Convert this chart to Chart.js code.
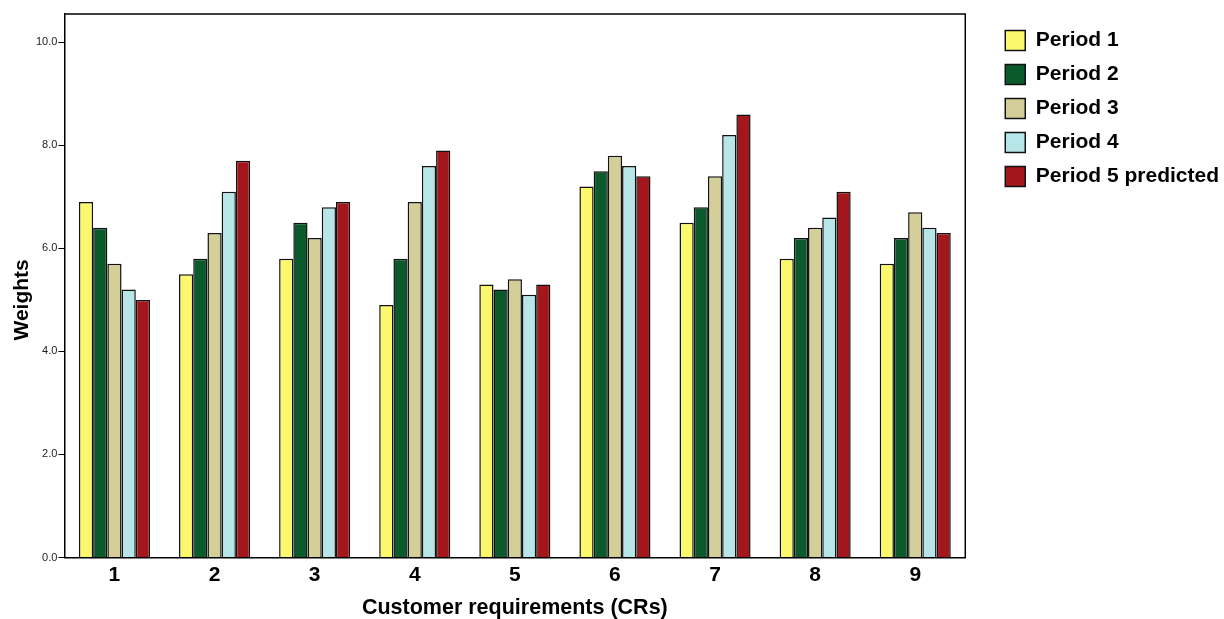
<!DOCTYPE html>
<html>
<head>
    <title>Weights by customer requirement</title>
    <script src="https://cdn.jsdelivr.net/npm/chart.js"></script>
    <style>
        body { margin: 0; background: #fff; }
        #wrap { width: 1224px; height: 619px; }
    </style>
</head>
<body>
    <div id="wrap"><canvas id="chart"></canvas></div>

    <script>
        // Data
        const categories = ['1', '2', '3', '4', '5', '6', '7', '8', '9'];
        const seriesNames = ['Period 1', 'Period 2', 'Period 3', 'Period 4', 'Period 5 predicted'];
        const period1 = [6.9, 5.5, 5.8, 4.9, 5.3, 7.2, 6.5, 5.8, 5.7];
        const period2 = [6.4, 5.8, 6.5, 5.8, 5.2, 7.5, 6.8, 6.2, 6.2];
        const period3 = [5.7, 6.3, 6.2, 6.9, 5.4, 7.8, 7.4, 6.4, 6.7];
        const period4 = [5.2, 7.1, 6.8, 7.6, 5.1, 7.6, 8.2, 6.6, 6.4];
        const period5 = [5.0, 7.7, 6.9, 7.9, 5.3, 7.4, 8.6, 7.1, 6.3];
        const yTicks = [0, 2, 4, 6, 8, 10];

        const colors = ['#fbf86e', '#0a5a2c', '#d4cf98', '#b6e6e8', '#a3161b'];
        const allSeries = [period1, period2, period3, period4, period5];

        const font = "'Liberation Sans', Arial, sans-serif";

        // box round the plot area (top and right edges) + y title centred on the 0-10 range
        const frame = {
            id: 'frame',
            afterDatasetsDraw(chart) {
                const a = chart.chartArea;
                const ctx = chart.ctx;
                ctx.save();
                ctx.strokeStyle = '#000';
                ctx.lineWidth = 1.5;
                ctx.beginPath();
                ctx.moveTo(a.left, a.top);
                ctx.lineTo(a.right, a.top);
                ctx.lineTo(a.right, a.bottom);
                ctx.stroke();

                const y = chart.scales.y;
                const mid = (y.getPixelForValue(0) + y.getPixelForValue(10)) / 2;
                ctx.translate(22, mid);
                ctx.rotate(-Math.PI / 2);
                ctx.font = `bold 21px ${font}`;
                ctx.fillStyle = '#000';
                ctx.textAlign = 'center';
                ctx.textBaseline = 'middle';
                ctx.fillText('Weights', 0, 0);
                ctx.restore();
            }
        };

        // gap between plot and legend, legend pushed to the right
        const legendGap = {
            id: 'legendGap',
            beforeInit(chart) {
                const fit = chart.legend.fit;
                chart.legend.fit = function () {
                    fit.call(this);
                    this.width += 22;
                };
            },
            afterLayout(chart) {
                chart.legend.left += 27;
                chart.legend.right += 27;
                chart.legend.top += 3;
            }
        };

        new Chart(document.getElementById('chart'), {
            type: 'bar',
            data: {
                labels: categories,
                datasets: allSeries.map((d, i) => ({
                    label: seriesNames[i],
                    data: d,
                    backgroundColor: colors[i],
                    borderColor: '#111',
                    borderWidth: 1.5,
                    categoryPercentage: 0.71,
                    barPercentage: 1.0
                }))
            },
            options: {
                responsive: true,
                maintainAspectRatio: false,
                animation: false,
                layout: { padding: { top: 14, left: 35, right: 0, bottom: 0 } },
                plugins: {
                    tooltip: { enabled: false },
                    legend: {
                        position: 'right',
                        align: 'start',
                        labels: {
                            boxWidth: 20,
                            boxHeight: 20,
                            padding: 13,
                            color: '#000',
                            font: { family: font, size: 21, weight: 'bold' }
                        }
                    }
                },
                scales: {
                    x: {
                        grid: { display: false, drawTicks: false },
                        border: { color: '#000', width: 1.5 },
                        ticks: { color: '#000', padding: 7, font: { family: font, size: 21, weight: 'bold', lineHeight: 1 } },
                        title: {
                            display: true,
                            text: 'Customer requirements (CRs)',
                            color: '#000',
                            padding: { top: 5, bottom: 0 },
                            font: { family: font, size: 21.5, weight: 'bold', lineHeight: 1 }
                        }
                    },
                    y: {
                        min: 0,
                        max: 10.55,
                        afterBuildTicks(axis) { axis.ticks = yTicks.map(v => ({ value: v })); },
                        grid: { drawOnChartArea: false, drawTicks: true, tickLength: 6, color: '#000', lineWidth: 1 },
                        border: { color: '#000', width: 1.5 },
                        ticks: {
                            color: '#222',
                            padding: 1,
                            font: { family: font, size: 11 },
                            callback: v => v.toFixed(1)
                        },
                        title: { display: false }
                    }
                }
            },
            plugins: [frame, legendGap]
        });
    </script>
</body>
</html>
